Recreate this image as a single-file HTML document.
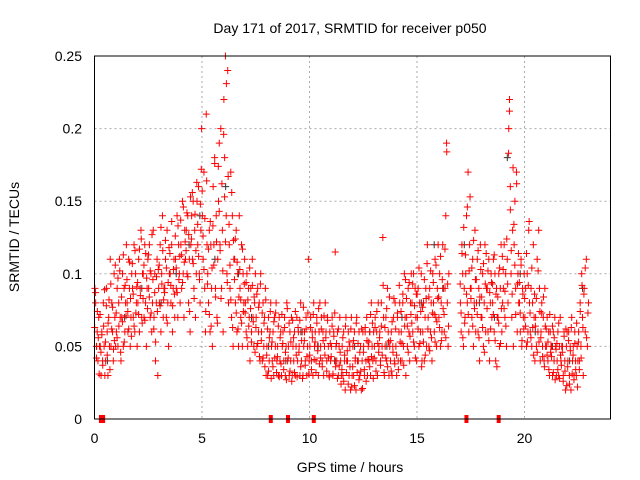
<!DOCTYPE html>
<html><head><meta charset="utf-8"><style>
body{margin:0;background:#fff;}
svg{display:block;font-family:"Liberation Sans",sans-serif;}
</style></head><body>
<svg id="chart" width="640" height="480">
<rect width="640" height="480" fill="#fff"/>
<text x="350" y="33" text-anchor="middle" font-size="14">Day 171 of 2017, SRMTID for receiver p050</text>
<text x="350" y="472" text-anchor="middle" font-size="14">GPS time / hours</text>
<text transform="translate(19,237) rotate(-90)" text-anchor="middle" font-size="14">SRMTID / TECUs</text>
<g id="grid"></g>
<g id="ticks"></g>
<g id="black"></g>
<g id="red"></g>
<rect x="94.5" y="56" width="516" height="363" fill="none" stroke="#000" stroke-width="1"/>
</svg>
<script>
const xTicks=[0,5,10,15,20];
const yTicks=[0,0.05,0.1,0.15,0.2,0.25];
const yTickLabels=["0","0.05","0.1","0.15","0.2","0.25"];
const binStarts=[0,0.25,0.5,0.75,1,1.25,1.5,1.75,2,2.25,2.5,2.75,3,3.25,3.5,3.75,4,4.25,4.5,4.75,5,5.25,5.5,5.75,6,6.25,6.5,6.75,7,7.25,7.5,7.75,8,8.25,8.5,8.75,9,9.25,9.5,9.75,10,10.25,10.5,10.75,11,11.25,11.5,11.75,12,12.25,12.5,12.75,13,13.25,13.5,13.75,14,14.25,14.5,14.75,15,15.25,15.5,15.75,16,16.25,17,17.25,17.5,17.75,18,18.25,18.5,18.75,19,19.25,19.5,19.75,20,20.25,20.5,20.75,21,21.25,21.5,21.75,22,22.25,22.5,22.75];
const redValues=[
[9,8,5,6,4,7,5],[5,3,6,4,8,5,3],[4,9,6,3,7,5,11],[5,8,6,4,10,7,5],[6,9,5,8,11,7,4],[7,10,5,9,6,8,12],[8,6,11,9,5,7,10],[9,7,12,6,10,8,5],
[8,11,6,9,13,7,10],[10,7,12,8,5,9,11],[9,12,7,10,6,8,13],[7,10,4,8,11,3,9],[8,12,6,10,14,7,9],[9,11,7,13,8,5,10],[10,8,12,6,9,11,7],[11,9,14,7,12,10,8],
[12,9,15,10,7,13,11],[13,10,14,8,11,6,12],[14,11,15,9,13,7,10],[15,12,16,10,8,13,20],[14,11,17,9,6,21,12],[10,8,13,6,12,9,5],[16,12,18,9,14,7,11],[15,19,12,20,9,13,6],
[22,18,25,14,10,24,8],[12,9,17,7,14,5,11],[11,8,13,6,10,5,14],[9,7,12,5,10,8,11],[8,6,10,5,9,7,4],[9,6,11,7,5,8,10],[7,5,9,6,8,4,10],[6,4,8,5,7,9,3],
[5,3,7,4,6,8,5],[4,6,3,7,5,8,4],[5,3,7,4,6,3,5],[6,4,7,3,5,8,4],[5,3,6,4,7,3,5],[4,6,3,5,7,4,6],[5,3,8,4,6,3,5],[6,4,7,3,5,11,4],
[5,7,4,6,3,8,5],[6,4,7,5,3,6,8],[5,7,4,6,3,5,8],[6,4,7,5,3,6,4],[5,7,3,6,4,11.5,5],[4,6,3,5,7,4,3],[5,3,6,4,2,7,4],[4,6,3,5,2,7,3],
[5,3,6,4,2,7,4],[4,6,3,5,2,4,6],[5,3,6,4,7,3,5],[4,6,3,8,5,4,6],[5,7,4,6,3,8,5],[6,4,8,5,12.5,7,3],[5,7,4,9,6,3,5],[4,6,3,5,7,4,8],
[5,3,7,4,6,8,4],[6,4,8,5,10,7,3],[7,5,9,6,4,8,10],[8,6,10,5,9,7,4],[7,9,5,8,6,10,4],[6,8,4,7,9,5,12],[7,5,9,6,8,4,10],[8,6,11,7,5,9,12],
[7,10,5,8,6,12,9],[6,9,14,19,8,5,10],[8,6,12,10,5,9,7],[10,14,8,17,6,12,9],[9,7,11,5,8,13,6],[8,11,6,9,4,12,7],[7,10,5,8,12,6,9],[9,6,11,4,8,10,7],
[8,11,6,10,4,9,7],[7,10,5,9,12,6,8],[9,12,7,10,5,11,8],[20,22,16,10,7,13,5],[12,15,9,17,6,10,8],[8,6,11,5,9,7,10],[7,9,5,10,6,13,8],[6,9,5,8,12,7,4],
[7,5,11,6,13,9,4],[6,8,5,7,4,9,5],[5,7,4,6,3,6,5],[5,3,6,4,7,5,3],[4,6,3,5,7,4,5],[5,3,6,4,2,5,6],[4,6,3,5,2,7,4],[5,3,6,4,3,5,4],
[6,4,8,5,10,7,3],[9,6,11,5,8]];
const redValues2=[
[6.3,8.7,4.2,7.4,5.6,3.1],[7.2,4.6,5.8,3.7,6.4,8.9],[5.3,7.8,4.4,6.6,8.2,3.4],[9.3,6.2,7.7,4.8,5.4,10.6],[7.3,5.6,9.7,6.4,10.2,4.6],[8.4,6.7,11.3,5.3,9.2,7.1],[9.6,7.4,6.2,10.8,8.3,5.7],[10.7,8.6,6.4,11.6,7.3,9.1],
[9.4,7.2,11.7,8.5,12.4,6.6],[8.3,10.6,6.8,11.4,9.7,7.6],[11.3,8.4,10.2,7.3,12.7,9.6],[6.2,8.7,5.3,9.8,7.4,10.3],[10.6,7.8,13.2,9.3,11.6,8.2],[8.7,12.3,10.4,6.6,9.4,11.8],[11.4,9.2,13.6,7.8,10.3,8.6],[12.6,10.4,8.7,13.3,9.6,11.2],
[13.7,11.3,9.4,14.6,10.8,12.2],[11.6,14.2,9.8,12.7,7.4,15.3],[12.4,15.6,10.7,8.3,14.1,11.6],[16.3,13.4,11.2,9.6,14.8,17.2],[15.7,12.6,10.3,13.8,7.4,16.4],[9.3,11.7,7.2,13.6,6.4,10.4],[13.3,10.6,17.6,8.4,12.2,6.6],[17.4,14.3,11.6,8.3,16.2,10.2],
[19.6,15.3,12.2,23.1,9.4,16.7],[13.4,10.6,8.2,15.6,6.3,12.3],[9.6,12.4,7.3,10.8,6.2,8.4],[10.3,8.2,6.6,11.7,7.4,9.3],[7.3,9.4,5.6,8.2,6.4,10.4],[7.6,5.3,9.2,6.7,8.4,4.6],[6.3,8.6,5.2,7.7,4.3,9.3],[5.4,7.3,4.2,6.6,3.6,8.2],
[4.4,6.2,3.3,5.6,7.4,2.8],[5.3,3.6,6.7,4.2,7.3,3.2],[4.3,6.4,2.9,5.6,3.8,7.2],[5.2,3.4,6.3,4.6,2.7,7.6],[4.2,6.6,3.3,5.3,2.6,6.8],[5.6,3.2,7.4,4.4,2.9,6.3],[4.6,6.8,3.6,5.4,2.8,7.7],[5.4,3.7,6.2,4.3,7.3,3.1],
[4.4,6.3,3.4,5.6,7.2,4.1],[5.3,3.2,6.6,4.7,7.6,3.8],[4.2,6.2,3.6,5.4,7.1,4.4],[5.6,3.3,6.8,4.2,2.9,5.2],[4.3,6.4,3.1,5.7,7.3,3.6],[5.2,2.8,6.2,3.7,4.6,2.4],[3.4,5.6,2.6,4.4,6.4,3.2],[4.7,2.4,5.3,3.6,6.2,2.2],
[3.6,5.4,2.3,4.2,6.6,3.2],[5.2,2.7,4.6,3.3,6.2,2.1],[4.6,3.4,6.3,2.6,5.4,4.1],[5.3,3.6,7.2,4.3,6.6,2.8],[4.2,6.3,3.3,7.4,5.2,4.6],[5.6,3.7,6.4,4.4,9.2,3.2],[6.3,4.2,7.6,3.6,5.3,8.4],[5.4,3.3,6.7,4.6,8.3,3.8],
[6.2,4.4,7.3,3.4,9.2,5.3],[7.4,5.2,8.6,3.7,6.4,9.6],[8.3,6.4,4.6,9.4,5.7,7.2],[6.6,9.3,5.3,7.8,4.2,8.6],[8.6,6.2,10.4,5.2,7.4,3.6],[7.7,5.3,9.6,4.4,8.3,10.7],[6.2,8.4,4.7,10.2,5.6,7.3],[9.4,7.2,5.3,10.6,6.7,8.3],
[8.4,6.3,11.2,5.4,9.6,7.6],[7.2,11.7,5.6,18.4,9.3,6.4],[9.3,7.3,11.4,5.6,13.2,6.6],[11.3,8.6,14.6,7.2,10.2,15.3],[8.3,10.4,6.4,12.3,7.6,9.6],[9.6,7.2,11.6,5.6,8.4,10.3],[8.4,6.3,10.7,4.6,9.3,11.4],[7.6,10.2,5.4,8.7,6.2,9.4],
[9.3,7.2,11.3,5.4,8.6,3.6],[8.4,6.6,10.4,5.2,7.6,11.2],[10.3,7.6,8.8,6.4,12.4,9.3],[18.3,21.2,14.4,11.6,8.6,17.3],[13.4,10.6,7.2,16.2,9.3,11.4],[9.4,7.3,10.6,5.4,8.6,6.2],[8.3,6.4,11.4,5.3,9.2,13.6],[7.3,5.6,10.4,6.3,4.4,8.6],
[6.4,8.3,4.6,10.2,5.3,7.4],[5.6,7.3,4.3,8.4,3.6,6.4],[6.2,4.4,5.3,3.4,7.2,4.6],[4.3,6.4,3.2,5.6,2.7,4.8],[5.2,3.4,6.6,2.8,4.4,3.7],[4.6,2.6,5.7,3.3,6.2,2.3],[3.6,5.4,2.4,4.7,6.3,3.1],[4.4,2.7,5.2,3.4,6.6,2.2],
[5.3,3.4,7.4,4.2,9.2,6.3],[8.6,10.4,5.6,7.3]];
const blackTimes=[0.1,0.6,1.4,2.2,3.1,3.8,4.4,4.9,5.6,6.1,6.7,7.3,8.1,8.9,9.6,10.4,11.2,12.1,12.8,13.6,14.3,15.2,15.8,16.2,17.2,17.9,18.6,19.2,19.8,20.5,21.3,22.1,22.7];
const blackValues=[0.05,0.04,0.07,0.09,0.08,0.1,0.12,0.14,0.11,0.16,0.1,0.07,0.05,0.04,0.06,0.05,0.04,0.05,0.06,0.05,0.07,0.08,0.12,0.09,0.12,0.08,0.07,0.18,0.1,0.06,0.05,0.04,0.09];
const zeroTimes=[0.3,0.4,8.2,9.0,10.2,17.3,18.8];

const X=t=>94.5+t*21.5;
const Y=v=>419-v/0.25*363;
const NS="http://www.w3.org/2000/svg";
function mk(tag,attrs,parent){const e=document.createElementNS(NS,tag);for(const k in attrs)e.setAttribute(k,attrs[k]);parent.appendChild(e);return e;}
const grid=document.getElementById('grid'),ticks=document.getElementById('ticks');
xTicks.forEach(t=>{
 if(t>0){const l=mk('line',{x1:X(t),x2:X(t),y1:56,y2:419,stroke:'#aaa','stroke-dasharray':'2,3'},grid);
 
 }
 const tx=mk('text',{x:X(t),y:443,'text-anchor':'middle','font-size':14},ticks);tx.textContent=t;
 
 
});
yTicks.forEach((v,i)=>{
 if(v>0&&v<0.25){const l=mk('line',{x1:94.5,x2:610.5,y1:Y(v),y2:Y(v),stroke:'#aaa','stroke-dasharray':'2,3'},grid);
 
 }
 const tx=mk('text',{x:82,y:Y(v)+5,'text-anchor':'end','font-size':14},ticks);tx.textContent=yTickLabels[i];
 
 
});
function plus(x,y){return `M${x-3.5},${y}h7M${x},${y-3.5}v7`;}
let d='';
binStarts.forEach((b,i)=>{const vals=redValues[i];vals.forEach((v,j)=>{d+=plus(X(b+(j+0.5)*0.25/vals.length),Y(v/100));});});
binStarts.forEach((b,i)=>{const vals=redValues2[i];vals.forEach((v,j)=>{d+=plus(X(b+(j+0.2)*0.25/vals.length),Y(v/100));});});
const rp=mk('path',{d:d,stroke:'#f00','stroke-width':1,fill:'none'},document.getElementById('red'));


let dz='';
zeroTimes.forEach(t=>{dz+=`M${X(t)-2},${Y(0)-4}h4v8h-4z`;});
const zp=mk('path',{d:dz,fill:'#f00'},document.getElementById('red'));


let db='';
blackTimes.forEach((t,i)=>{db+=plus(X(t),Y(blackValues[i]));});
const bp=mk('path',{d:db,stroke:'#333','stroke-width':1,fill:'none'},document.getElementById('black'));


</script>
</body></html>
